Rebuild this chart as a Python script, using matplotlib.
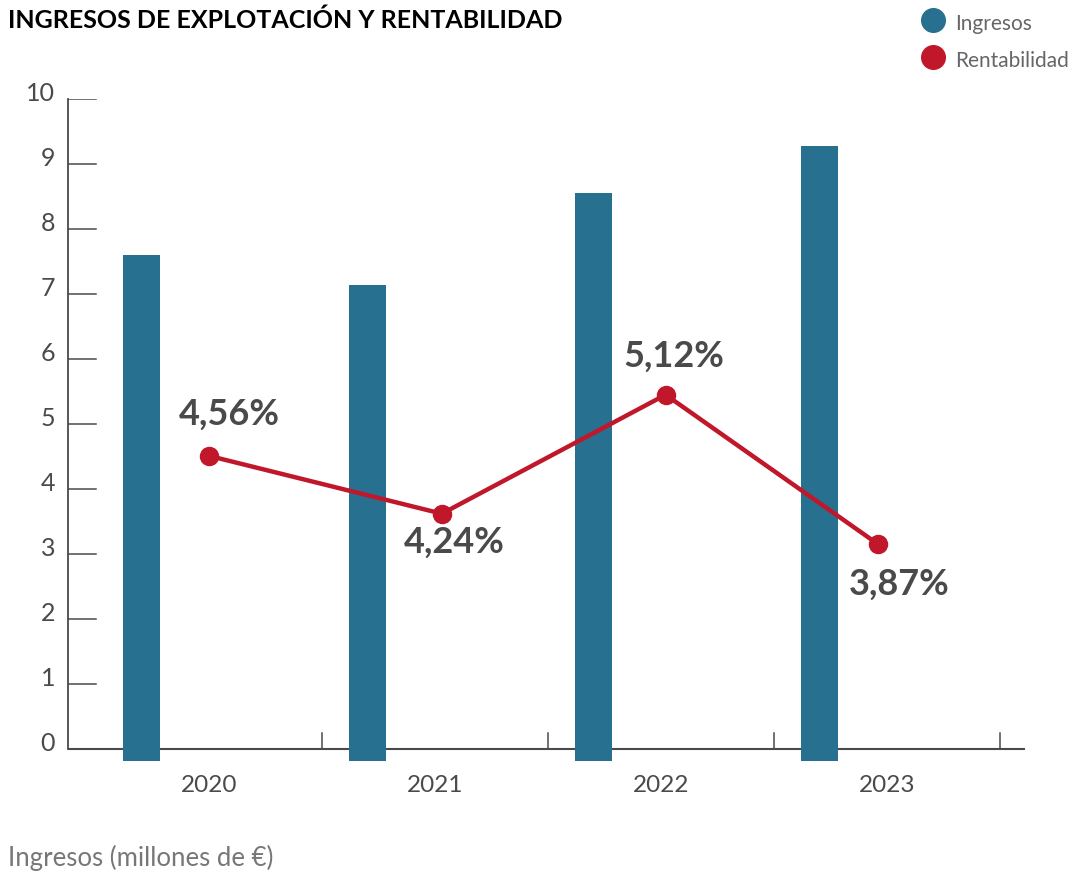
import numpy as np
import matplotlib.pyplot as plt
from matplotlib.lines import Line2D

plt.rcParams['font.family'] = ['Lato', 'DejaVu Sans']

# data
years = ['2020', '2021', '2022', '2023']
ingresos = [7.60, 7.14, 8.55, 9.28]
rentabilidad_labels = ['4,56%', '4,24%', '5,12%', '3,87%']
# where the rentabilidad points sit on the left scale
rentabilidad_pos = [4.51, 3.62, 5.45, 3.15]

blue = '#27708f'
red = '#c0172a'
grey = '#4a4a4a'

fig = plt.figure(figsize=(10.68, 8.72), dpi=100)
ax = fig.add_axes([68 / 1068, 1 - 768.5 / 872, (1025 - 68) / 1068, (768.5 - 99) / 872])

x = np.arange(len(years))
base = -0.18
ax.bar(x - 0.30, np.array(ingresos) - base, bottom=base, width=0.164, color=blue, zorder=2)

line_x = x + np.array([0.0, 0.03, 0.02, -0.04])
ax.plot(line_x, rentabilidad_pos, color=red, lw=3.2, marker='o', ms=13, zorder=3)

# labels: above, below, above, below
offsets = [(20, 42), (12, -29), (8, 38), (21, -40)]
for xi, yi, lab, (dx, dy) in zip(line_x, rentabilidad_pos, rentabilidad_labels, offsets):
    ax.annotate(lab, (xi, yi), xytext=(dx * 0.72, dy * 0.72), textcoords='offset points',
                ha='center', va='center', fontsize=26, fontweight='bold', color=grey)

ax.set_xlim(-0.624, 3.61)
ax.set_ylim(-0.3, 10)
for s in ax.spines.values():
    s.set_visible(False)
ax.set_xticks([])
ax.set_yticks([])

# axis lines and ticks drawn by hand
ax.plot([-0.624, -0.624], [0, 10], color=grey, lw=1.3, clip_on=False)
ax.plot([-0.624, 3.61], [0, 0], color=grey, lw=1.5, zorder=1)
for v in range(1, 11):
    ax.plot([-0.624, -0.624 + 28 / 226], [v, v], color=grey, lw=1.1)
for b in [0.5, 1.5, 2.5, 3.5]:
    ax.plot([b, b], [0, 0.25], color=grey, lw=1.1)
for v in range(0, 11):
    ax.text(-0.624 - 13 / 226, v + 0.08, str(v), ha='right', va='center',
            fontsize=18, color=grey)
for xi, yr in zip(x, years):
    ax.text(xi, -0.56, yr, ha='center', va='center', fontsize=17.5, color=grey)

fig.text(8 / 1068, 1 - 20 / 872, 'INGRESOS DE EXPLOTACIÓN Y RENTABILIDAD',
         ha='left', va='center', fontsize=18, fontweight='bold', color='black')
fig.text(8 / 1068, 1 - 858 / 872, 'Ingresos (millones de €)',
         ha='left', va='center', fontsize=18.5, color='#777777')

# legend
for yy, col, lab in [(20, blue, 'Ingresos'), (57, red, 'Rentabilidad')]:
    fig.add_artist(Line2D([933 / 1068], [1 - yy / 872], marker='o', ms=17, color=col, lw=0))
    fig.text(955 / 1068, 1 - (yy + 4) / 872, lab, ha='left', va='center', fontsize=15, color='#666666')

fig.savefig('out.png', dpi=100)
